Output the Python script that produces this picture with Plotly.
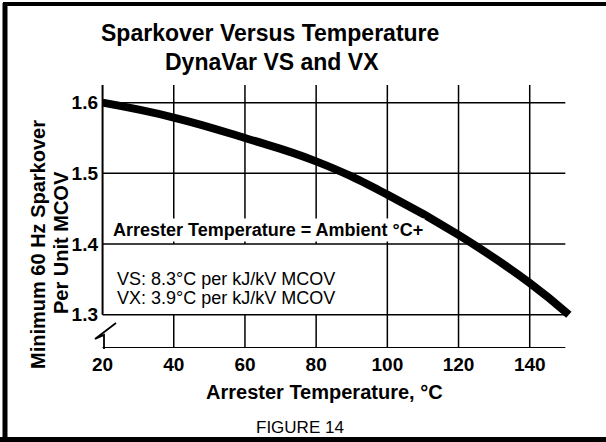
import plotly.graph_objects as go

# ---- data ----
temps = [20, 40, 60, 80, 100, 120, 140, 151]
sparkover = [1.600, 1.579, 1.550, 1.517, 1.470, 1.413, 1.345, 1.300]
x_ticks = [20, 40, 60, 80, 100, 120, 140]
x_tick_labels = ["20", "40", "60", "80", "100", "120", "140"]
y_ticks = [1.3, 1.4, 1.5, 1.6]
y_tick_labels = ["1.3", "1.4", "1.5", "1.6"]

title_lines = ["Sparkover Versus Temperature", "DynaVar VS and VX"]
y_title_lines = ["Minimum 60 Hz Sparkover", "Per Unit MCOV"]
x_title = "Arrester Temperature, °C"
note_head = "Arrester Temperature = Ambient °C+"
note_lines = ["VS: 8.3°C per kJ/kV MCOV", "VX: 3.9°C per kJ/kV MCOV"]
caption = "FIGURE 14"

# ---- layout geometry ----
W, H = 606, 442
L, R, T, B = 99, 30, 85, 94
X_RANGE = [19, 153]
Y_RANGE = [1.253, 1.625]
X_END = 150
PW, PH = W - L - R, H - T - B

def px(x):
    return (x - L) / PW

def py(y):
    return (H - B - y) / PH

FONT = "Liberation Sans, Arial, Helvetica, sans-serif"

fig = go.Figure()
fig.add_trace(go.Scatter(
    x=temps, y=sparkover, mode="lines",
    line=dict(color="black", width=8, shape="spline", smoothing=1.3),
    hoverinfo="skip", showlegend=False,
))

shapes = []
grid = dict(color="black", width=1.5)
for xv in x_ticks[1:]:
    shapes.append(dict(type="line", xref="x", yref="y", x0=xv, x1=xv,
                       y0=Y_RANGE[0], y1=Y_RANGE[1], line=grid, layer="between"))
# white box behind the note text
shapes.append(dict(type="rect", xref="x", yref="y", x0=x_ticks[0], x1=92,
                   y0=y_ticks[0], y1=y_ticks[1], fillcolor="white",
                   line=dict(width=0), layer="between"))
for yv in y_ticks:
    shapes.append(dict(type="line", xref="x", yref="y", x0=x_ticks[0], x1=X_END,
                       y0=yv, y1=yv, line=grid, layer="between"))
axis_line = dict(color="black", width=2)
shapes.append(dict(type="line", xref="x", yref="y", x0=x_ticks[0], x1=x_ticks[0],
                   y0=y_ticks[0], y1=Y_RANGE[1], line=axis_line, layer="between"))
shapes.append(dict(type="line", xref="x", yref="y", x0=x_ticks[0], x1=X_END,
                   y0=Y_RANGE[0], y1=Y_RANGE[0], line=axis_line, layer="between"))
# axis break zigzag, drawn on paper (layout decoration)
zig = [(116, 323), (95, 339), (104, 335), (104, 349)]
zig_path = "M " + " L ".join(f"{px(a):.5f} {py(b):.5f}" for a, b in zig)
shapes.append(dict(type="path", xref="paper", yref="paper", path=zig_path,
                   line=dict(color="black", width=1.8)))
# page frame
frame = dict(color="black", width=5)
shapes.append(dict(type="line", xref="paper", yref="paper", x0=px(5), x1=px(5),
                   y0=py(3), y1=py(442), line=frame))
shapes.append(dict(type="line", xref="paper", yref="paper", x0=px(3), x1=px(606),
                   y0=py(4), y1=py(4), line=dict(color="black", width=4)))
shapes.append(dict(type="line", xref="paper", yref="paper", x0=px(0), x1=px(606),
                   y0=py(439.5), y1=py(439.5), line=frame))

annotations = []
def ann(text, x, y, size, bold=False, xref="paper", yref="paper", xanchor="center",
        angle=0, bg=None):
    d = dict(text=text, x=x, y=y, xref=xref, yref=yref, xanchor=xanchor, yanchor="middle",
             showarrow=False, textangle=angle,
             font=dict(family=FONT, size=size, color="black", weight="bold" if bold else "normal"))
    if bg:
        d["bgcolor"] = bg
    annotations.append(d)

ann(title_lines[0], px(270), py(33), 23, bold=True)
ann(title_lines[1], px(272), py(62), 23, bold=True)
ann(y_title_lines[0], px(38), py(245), 20, bold=True, angle=-90)
ann(y_title_lines[1], px(61), py(243), 20, bold=True, angle=-90)
ann(x_title, px(324), py(392), 20, bold=True)
ann(caption, px(300), py(427), 17)
ann(note_head, 22.4, 1.420, 18, bold=True, xref="x", yref="y", xanchor="left", bg="white")
ann(note_lines[0], 23.6, 1.350, 18, xref="x", yref="y", xanchor="left")
ann(note_lines[1], 23.6, 1.324, 18, xref="x", yref="y", xanchor="left")

fig.update_layout(
    width=W, height=H, margin=dict(l=L, r=R, t=T, b=B, pad=0),
    paper_bgcolor="white", plot_bgcolor="white",
    shapes=shapes, annotations=annotations,
    xaxis=dict(range=X_RANGE, tickvals=x_ticks, ticktext=x_tick_labels, showgrid=False,
               zeroline=False, showline=False, ticks="", ticklabelstandoff=3,
               tickfont=dict(family=FONT, size=19, color="black", weight="bold")),
    yaxis=dict(range=Y_RANGE, tickvals=y_ticks, ticktext=y_tick_labels, showgrid=False,
               zeroline=False, showline=False, ticks="",
               tickfont=dict(family=FONT, size=19, color="black", weight="bold")),
)

fig.write_html("out.html", config={"displayModeBar": False},
               post_script="document.body.style.margin='0';document.body.style.overflow='hidden';")
